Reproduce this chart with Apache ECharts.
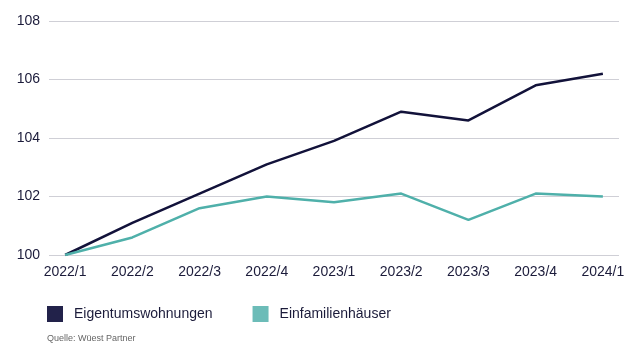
<!DOCTYPE html>
<html><head><meta charset="utf-8">
<script src="https://cdn.jsdelivr.net/npm/echarts@6/dist/echarts.min.js"></script>
<style>html,body{margin:0;padding:0;background:#fff}#c{width:641px;height:350px}</style>
</head><body><div id="c"></div>
<script>
const categories = ['2022/1','2022/2','2022/3','2022/4','2023/1','2023/2','2023/3','2023/4','2024/1'];
const eigentum = [100, 101.1, 102.1, 103.1, 103.9, 104.9, 104.6, 105.8, 106.2];
const einfamilien = [100, 100.6, 101.6, 102.0, 101.8, 102.1, 101.2, 102.1, 102.0];
const yTicks = [100, 102, 104, 106, 108];
const seriesNames = ['Eigentumswohnungen', 'Einfamilienhäuser'];

const font = 'Liberation Sans, Arial, sans-serif';
const chart = echarts.init(document.getElementById('c'), null, {renderer:'canvas'});
const idx = categories.map((_, i) => i);
chart.setOption({
  animation: false,
  grid: {left: 49, right: 22, top: 21, bottom: 95},
  legend: {
    left: 47, top: 306, padding: 0, itemWidth: 16, itemHeight: 16, itemGap: 40, icon: 'rect',
    textStyle: {fontFamily: font, fontSize: 14, color: '#1b1b3a', padding: [0,0,0,6]},
    data: seriesNames
  },
  graphic: [{type:'text', left: 47, top: 334, style:{text:'Quelle: Wüest Partner', font: '9px ' + font, fill:'#666'}}],
  xAxis: {
    type: 'value', min: -0.24, max: 8.24,
    axisLine: {show: false}, axisTick: {show: false}, splitLine: {show: false},
    axisLabel: {customValues: idx, formatter: v => categories[Math.round(v)] || '', fontFamily: font, fontSize: 14, color: '#1b1b3a', margin: 10}
  },
  yAxis: {
    type: 'value', min: yTicks[0], max: yTicks[yTicks.length-1], interval: 2,
    axisLine: {show: false}, axisTick: {show: false},
    splitLine: {lineStyle: {color: '#cfcfd6', width: 1}},
    axisLabel: {fontFamily: font, fontSize: 14, color: '#1b1b3a', margin: 9}
  },
  series: [
    {name: seriesNames[0], type: 'line', data: eigentum.map((v,i)=>[i,v]), symbol: 'none',
     lineStyle: {color: '#12123a', width: 2.5}, itemStyle: {color: '#22224a'}},
    {name: seriesNames[1], type: 'line', data: einfamilien.map((v,i)=>[i,v]), symbol: 'none',
     lineStyle: {color: '#4fb0aa', width: 2.5}, itemStyle: {color: '#6cbcb8'}}
  ]
});
</script></body></html>
